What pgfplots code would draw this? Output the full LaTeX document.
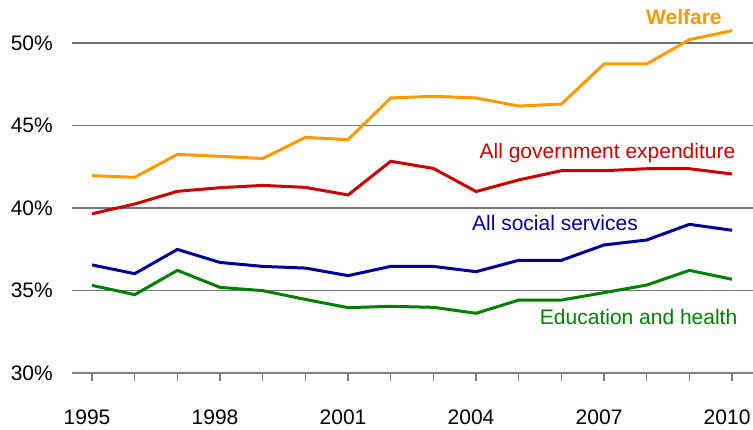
\documentclass[border=0pt]{standalone}
\usepackage{fontspec}
\setmainfont{Liberation Sans}
\usepackage{pgfplots}
\pgfplotsset{compat=1.18}
\definecolor{cwel}{HTML}{FF9900}
\definecolor{cgov}{HTML}{CC0000}
\definecolor{csoc}{HTML}{000099}
\definecolor{cedu}{HTML}{008000}
\begin{document}
\fontsize{21}{25}\selectfont
\begin{tikzpicture}
\path[use as bounding box] (-72pt,-57pt) rectangle (681pt,373pt);
\begin{axis}[
  at={(0,0)}, anchor=south west,
  scale only axis, width=681pt, height=330pt,
  xmin=1994.53, xmax=2010.49, ymin=30, ymax=50,
  clip=false,
  axis x line*=bottom, axis y line*=left,
  y axis line style={draw=none},
  x axis line style={draw=black!50, line width=1.3pt},
  xtick={1995,1998,...,2010},
  minor xtick={1996,1997,1999,2000,2002,2003,2005,2006,2008,2009},
  tick align=outside,
  major tick length=8pt, minor tick length=8pt,
  xtick style={draw=black!50, line width=1.3pt},
  minor tick style={draw=black!50, line width=1.3pt},
  ytick={30,35,...,50},
  ytick style={draw=none},
  ymajorgrids,
  grid style={draw=black!55, line width=1.1pt},
  /pgf/number format/1000 sep={},
  /pgf/number format/assume math mode=true,
  y tick label style={xshift=-4pt},
  yticklabel={\pgfmathprintnumber{\tick}\%},
  every tick label/.append style={font=\fontsize{21}{25}\selectfont},
  x tick label style={yshift=-22pt, xshift=-5pt},
]
\addplot[cwel, line width=3pt] coordinates {
(1995,41.96) (1996,41.86) (1997,43.25) (1998,43.13) (1999,43.0) (2000,44.28)
(2001,44.14) (2002,46.67) (2003,46.77) (2004,46.67) (2005,46.18) (2006,46.3)
(2007,48.73) (2008,48.73) (2009,50.2) (2010,50.75)};
\addplot[cgov, line width=3pt] coordinates {
(1995,39.65) (1996,40.24) (1997,41.01) (1998,41.23) (1999,41.37) (2000,41.25)
(2001,40.79) (2002,42.83) (2003,42.4) (2004,41.0) (2005,41.7) (2006,42.26)
(2007,42.26) (2008,42.38) (2009,42.38) (2010,42.06)};
\addplot[csoc, line width=3pt] coordinates {
(1995,36.55) (1996,36.02) (1997,37.49) (1998,36.7) (1999,36.46) (2000,36.36)
(2001,35.9) (2002,36.46) (2003,36.46) (2004,36.14) (2005,36.83) (2006,36.83)
(2007,37.76) (2008,38.06) (2009,39.01) (2010,38.65)};
\addplot[cedu, line width=3pt] coordinates {
(1995,35.31) (1996,34.75) (1997,36.22) (1998,35.19) (1999,34.99) (2000,34.46)
(2001,33.96) (2002,34.04) (2003,33.98) (2004,33.62) (2005,34.42) (2006,34.42)
(2007,34.87) (2008,35.33) (2009,36.22) (2010,35.68)};
\node[text=cwel, font=\fontsize{21}{25}\selectfont\bfseries] at (axis cs:2008.87,51.58) {Welfare};
\node[text=cgov] at (axis cs:2007.08,43.33) {All government expenditure};
\node[text=csoc] at (axis cs:2005.85,39.09) {All social services};
\node[text=cedu] at (axis cs:2007.81,33.39) {Education and health};
\end{axis}
\end{tikzpicture}
\end{document}
